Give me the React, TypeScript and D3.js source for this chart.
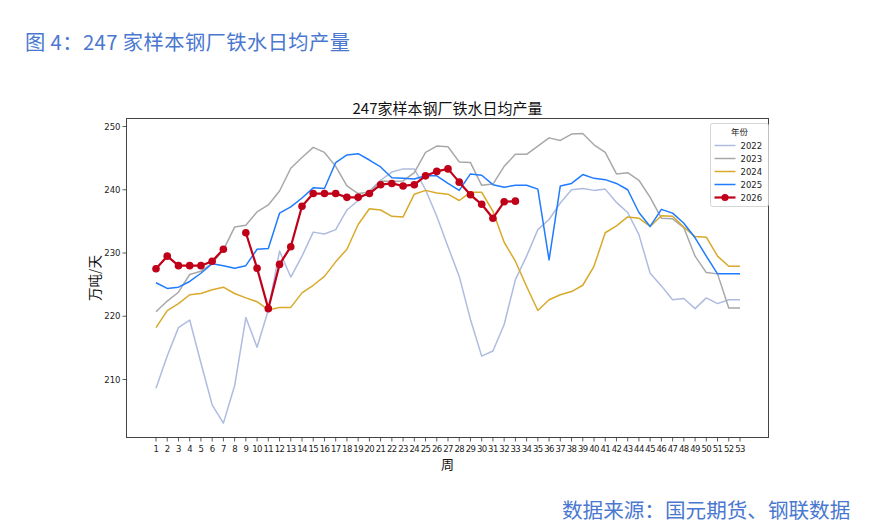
import React from "react";
import * as d3 from "d3";

const weeks: number[] = Array.from({ length: 53 }, (_, i) => i + 1);

const s2022: (number | null)[] = [
  208.6, 213.7, 218.2, 219.4, 212.6, 206.0, 203.1, 209.0, 219.8, 215.1,
  221.0, 230.3, 226.2, 229.5, 233.3, 233.0, 233.7, 236.8, 238.3, 239.8,
  241.5, 242.8, 243.3, 243.3, 240.0, 235.8, 231.0, 226.3, 219.5, 213.7,
  214.5, 218.7, 225.8, 229.5, 233.7, 235.3, 237.9, 240.0, 240.2, 239.9,
  240.1, 238.0, 236.4, 232.9, 226.8, 224.8, 222.6, 222.8, 221.2, 222.9,
  222.0, 222.6, 222.6,
];
const s2023: (number | null)[] = [
  220.7, 222.4, 223.8, 226.6, 227.1, 228.4, 230.5, 234.1, 234.4, 236.5,
  237.6, 239.8, 243.4, 245.1, 246.7, 245.9, 243.7, 240.6, 239.4, 239.6,
  241.4, 241.3, 241.4, 242.7, 245.9, 246.9, 246.8, 244.4, 244.3, 240.7,
  240.9, 243.7, 245.6, 245.6, 246.9, 248.2, 247.8, 248.8, 248.9, 247.1,
  245.9, 242.5, 242.7, 241.5, 238.8, 235.5, 235.4, 234.0, 229.5, 226.9,
  226.7, 221.3, 221.3,
];
const s2024: (number | null)[] = [
  218.2, 220.9, 222.0, 223.4, 223.6, 224.2, 224.6, 223.6, 222.9, 222.3,
  221.0, 221.4, 221.4, 223.7, 224.9, 226.3, 228.6, 230.6, 234.5, 237.0,
  236.8, 235.8, 235.7, 239.3, 239.9, 239.5, 239.3, 238.3, 239.6, 239.6,
  236.6, 231.7, 228.7, 224.7, 220.9, 222.6, 223.4, 223.9, 224.9, 227.9,
  233.2, 234.3, 235.7, 235.5, 234.2, 235.9, 235.8, 234.1, 232.6, 232.5,
  229.5, 227.9, 227.9,
];
const s2025: (number | null)[] = [
  225.3, 224.4, 224.6, 225.5, 226.8, 228.3, 228.0, 227.6, 228.0, 230.6,
  230.7, 236.3, 237.3, 238.7, 240.3, 240.2, 244.3, 245.5, 245.7, 244.7,
  243.6, 241.9, 241.8, 241.7, 242.2, 242.2, 241.0, 239.9, 242.5, 242.3,
  240.8, 240.4, 240.7, 240.7, 240.1, 228.9, 240.6, 241.0, 242.4, 241.8,
  241.6, 241.0, 240.0, 236.4, 234.2, 236.9, 236.3, 234.7, 232.4, 229.5,
  226.7, 226.7, 226.7,
];
const s2026: (number | null)[] = [
  227.5, 229.5, 228.0, 228.0, 228.0, 228.7, 230.6, null, 233.2, 227.6,
  221.2, 228.2, 231.0, 237.4, 239.4, 239.4, 239.4, 238.8, 238.8, 239.4,
  240.8, 241.0, 240.6, 240.8, 242.2, 242.9, 243.3, 241.2, 239.2, 237.7,
  235.5, 238.1, 238.2,
];

const seriesNames: string[] = ["2022", "2023", "2024", "2025", "2026"];
const seriesData: (number | null)[][] = [s2022, s2023, s2024, s2025, s2026];
const seriesColors: string[] = ["#AFBCE0", "#A8A8A8", "#D9A92A", "#1F7BFF", "#C00018"];
const yTicks: number[] = [210, 220, 230, 240, 250];

const W = 873;
const H = 524;
const plotL = 126.5;
const plotR = 768.5;
const plotT = 118.5;
const plotB = 437.5;

export default function App() {
  const x = d3.scaleLinear().domain([1, 53]).range([156, 740]);
  const y = d3.scaleLinear().domain([210, 250]).range([379.5, 126.5]);

  const line = d3
    .line<number | null>()
    .defined((d) => d !== null)
    .x((_, i) => x(weeks[i]))
    .y((d) => y(d as number));

  const font = "'DejaVu Sans', 'Noto Sans CJK SC', sans-serif";
  const cjk = "'Noto Sans CJK SC', 'Noto Sans', sans-serif";

  const legendX = 710.5;
  const legendY = 123.5;

  return (
    <div style={{ position: "absolute", left: 0, top: 0 }}>
      <svg width={W} height={H} style={{ display: "block", background: "#fff" }}>
        <text x={25} y={50} fontSize={20.3} fill="#4A78D0" fontFamily={cjk} letterSpacing={0.4}>
          图 4：247 家样本钢厂铁水日均产量
        </text>
        <text x={562} y={518} fontSize={20.6} fill="#4A78D0" fontFamily={cjk}>
          数据来源：国元期货、钢联数据
        </text>

        <text x={(plotL + plotR) / 2} y={114} fontSize={15} textAnchor="middle" fill="#111" fontFamily={cjk}>
          247家样本钢厂铁水日均产量
        </text>

        {/* series */}
        {seriesData.map((data, si) => (
          <path
            key={seriesNames[si]}
            d={line(data) || ""}
            fill="none"
            stroke={seriesColors[si]}
            strokeWidth={si === 4 ? 2.2 : 1.5}
            strokeLinejoin="round"
          />
        ))}
        {s2026.map((v, i) =>
          v === null ? null : (
            <circle key={i} cx={x(weeks[i])} cy={y(v)} r={3.8} fill={seriesColors[4]} />
          )
        )}

        {/* frame */}
        <rect x={plotL} y={plotT} width={plotR - plotL} height={plotB - plotT} fill="none" stroke="#444" strokeWidth={1} />

        {/* y ticks */}
        {yTicks.map((t) => (
          <g key={t}>
            <line x1={plotL - 4} x2={plotL} y1={y(t)} y2={y(t)} stroke="#333" strokeWidth={0.8} />
            <text x={plotL - 6} y={y(t) + 3} fontSize={8.5} textAnchor="end" fill="#222" fontFamily={font}>
              {t}
            </text>
          </g>
        ))}

        {/* x ticks */}
        {weeks.map((w) => (
          <g key={w}>
            <line x1={x(w)} x2={x(w)} y1={plotB} y2={plotB + 4} stroke="#333" strokeWidth={0.8} />
            <text
              x={x(w)}
              y={plotB + 14}
              fontSize={8.5}
              textAnchor="middle"
              fill="#222"
              fontFamily={font}
              letterSpacing={-0.6}
            >
              {w}
            </text>
          </g>
        ))}

        <text x={(plotL + plotR) / 2} y={469} fontSize={13} textAnchor="middle" fill="#111" fontFamily={cjk}>
          周
        </text>
        <text
          transform={`translate(100, ${(plotT + plotB) / 2}) rotate(-90)`}
          fontSize={13.5}
          textAnchor="middle"
          fill="#111"
          fontFamily={cjk}
        >
          万吨/天
        </text>

        {/* legend */}
        <rect x={legendX} y={legendY} width={58} height={83} rx={2} fill="#fff" fillOpacity={0.85} stroke="#ccc" strokeWidth={0.8} />
        <text x={legendX + 29} y={legendY + 11} fontSize={8.5} textAnchor="middle" fill="#222" fontFamily={cjk}>
          年份
        </text>
        {seriesNames.map((n, i) => {
          const ly = legendY + 22 + i * 13;
          return (
            <g key={n}>
              <line
                x1={legendX + 4}
                x2={legendX + 25}
                y1={ly}
                y2={ly}
                stroke={seriesColors[i]}
                strokeWidth={i === 4 ? 2.2 : 1.5}
              />
              {i === 4 && <circle cx={legendX + 14.5} cy={ly} r={3.6} fill={seriesColors[4]} />}
              <text x={legendX + 30} y={ly + 3.2} fontSize={8.5} fill="#222" fontFamily={font}>
                {n}
              </text>
            </g>
          );
        })}
      </svg>
    </div>
  );
}
